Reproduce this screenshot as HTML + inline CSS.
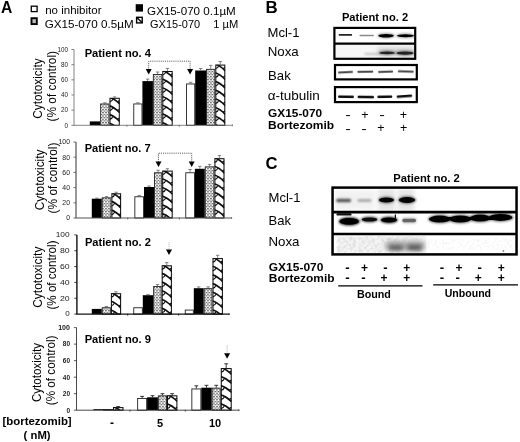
<!DOCTYPE html>
<html lang="en"><head><meta charset="utf-8"><title>Figure</title>
<style>html,body{margin:0;padding:0;background:#fff}svg{display:block}</style></head>
<body>
<svg width="520" height="442" viewBox="0 0 520 442" font-family='"Liberation Sans", Arial, sans-serif'>
<defs>
<pattern id="dots" width="3" height="3.3" patternUnits="userSpaceOnUse"><rect width="3" height="3.3" fill="#fff"/><rect x="0" y="0.2" width="1.9" height="0.85" fill="#333"/><rect x="1.5" y="1.85" width="1.9" height="0.85" fill="#333"/><rect x="-1.5" y="1.85" width="1.9" height="0.85" fill="#333"/></pattern>
<pattern id="wave" width="10" height="8.4" patternUnits="userSpaceOnUse"><rect width="10" height="8.4" fill="#fff"/><path d="M-1,-0.8 L9.5,5 " stroke="#111" stroke-width="2.4" fill="none"/><path d="M-1,7.6 L9.5,13.4" stroke="#111" stroke-width="2.4" fill="none"/><path d="M9.5,4.6 Q4,6 1.5,9.5" stroke="#111" stroke-width="1.2" fill="none"/><path d="M9.5,-3.8 Q4,-2.4 1.5,1.1" stroke="#111" stroke-width="1.2" fill="none"/></pattern>
<filter id="b0" x="-20%" y="-100%" width="140%" height="300%"><feGaussianBlur stdDeviation="0.45"/></filter>
<filter id="b1" x="-20%" y="-100%" width="140%" height="300%"><feGaussianBlur stdDeviation="0.7"/></filter>
<filter id="b2" x="-20%" y="-100%" width="140%" height="300%"><feGaussianBlur stdDeviation="1.2"/></filter>
<filter id="b3" x="-20%" y="-100%" width="140%" height="300%"><feGaussianBlur stdDeviation="2"/></filter>
<filter id="noise" x="0" y="0" width="100%" height="100%"><feTurbulence type="fractalNoise" baseFrequency="0.32" numOctaves="2" seed="4" result="n"/><feColorMatrix in="n" type="matrix" values="0 0 0 0 0.45  0 0 0 0 0.45  0 0 0 0 0.45  2.2 0 0 0 -0.85"/><feComposite operator="in" in2="SourceGraphic"/></filter>
<filter id="noise2" x="0" y="0" width="100%" height="100%"><feTurbulence type="fractalNoise" baseFrequency="0.4" numOctaves="2" seed="9" result="n"/><feColorMatrix in="n" type="matrix" values="0 0 0 0 0.6  0 0 0 0 0.6  0 0 0 0 0.6  2.2 0 0 0 -0.95"/><feComposite operator="in" in2="SourceGraphic"/></filter>
<filter id="soft"><feGaussianBlur stdDeviation="0.35"/></filter>
</defs>
<rect width="520" height="442" fill="#fff"/>
<g filter="url(#soft)">
<text x="1.00" y="12.50" font-size="16.50" font-weight="bold" textLength="11.30" lengthAdjust="spacingAndGlyphs">A</text>
<rect x="31.3" y="6.2" width="5.8" height="5.4" fill="#fff" stroke="#000" stroke-width="1.3"/>
<text x="45.20" y="13.50" font-size="11.50" textLength="56.30" lengthAdjust="spacingAndGlyphs">no inhibitor</text>
<rect x="31.5" y="18.2" width="5.3" height="5.9" fill="#bbb" stroke="#000" stroke-width="1.9"/>
<text x="44.70" y="27.50" font-size="11.50" textLength="89.00" lengthAdjust="spacingAndGlyphs">GX15-070 0.5µM</text>
<rect x="135.7" y="4.2" width="7.3" height="7.4" fill="#000"/>
<text x="147.10" y="14.60" font-size="11.50" textLength="88.70" lengthAdjust="spacingAndGlyphs">GX15-070 0.1µM</text>
<rect x="136.6" y="17.3" width="5.6" height="5.6" fill="#fff" stroke="#000" stroke-width="1.4"/><path d="M137,17.8 L142,22.6" stroke="#000" stroke-width="1.4"/>
<text x="150.10" y="27.60" font-size="11.50" textLength="50.00" lengthAdjust="spacingAndGlyphs">GX15-070</text>
<text x="213.20" y="27.60" font-size="11.50" textLength="25.00" lengthAdjust="spacingAndGlyphs">1 µM</text>
<rect x="89.80" y="121.40" width="10.40" height="3.90" fill="#000"/>
<rect x="100.65" y="103.95" width="8.40" height="21.35" fill="url(#dots)" stroke="#222" stroke-width="0.9"/>
<path d="M104.85,103.50 V102.80 M103.15,102.80 H106.55" stroke="#555" stroke-width="0.70" fill="none"/>
<clipPath id="c1"><rect x="109.50" y="97.90" width="10.20" height="27.40"/></clipPath>
<rect x="109.50" y="97.90" width="10.20" height="27.40" fill="#fff"/>
<g clip-path="url(#c1)"><path d="M109.50,88.50 C112.56,89.30 116.64,92.30 119.70,95.30 M109.50,97.20 C112.56,98.00 116.64,101.00 119.70,104.00 M109.50,105.90 C112.56,106.70 116.64,109.70 119.70,112.70 M109.50,114.60 C112.56,115.40 116.64,118.40 119.70,121.40 M109.50,123.30 C112.56,124.10 116.64,127.10 119.70,130.10 M109.50,132.00 C112.56,132.80 116.64,135.80 119.70,138.80" stroke="#111" stroke-width="1.7" fill="none"/><path d="M109.50,93.30 Q112.36,92.50 112.97,90.30 M119.70,91.90 L117.46,93.10 M109.50,102.00 Q112.36,101.20 112.97,99.00 M119.70,100.60 L117.46,101.80 M109.50,110.70 Q112.36,109.90 112.97,107.70 M119.70,109.30 L117.46,110.50 M109.50,119.40 Q112.36,118.60 112.97,116.40 M119.70,118.00 L117.46,119.20 M109.50,128.10 Q112.36,127.30 112.97,125.10 M119.70,126.70 L117.46,127.90 M109.50,136.80 Q112.36,136.00 112.97,133.80 M119.70,135.40 L117.46,136.60" stroke="#111" stroke-width="1.1" fill="none"/></g>
<rect x="110.00" y="98.30" width="9.30" height="27.00" fill="none" stroke="#111" stroke-width="1.05"/>
<path d="M114.60,97.90 V96.90 M112.90,96.90 H116.30" stroke="#555" stroke-width="0.70" fill="none"/>
<rect x="133.75" y="103.95" width="8.20" height="21.35" fill="#fff" stroke="#222" stroke-width="0.9"/>
<path d="M137.85,103.50 V102.80 M136.15,102.80 H139.55" stroke="#555" stroke-width="0.70" fill="none"/>
<rect x="142.40" y="81.10" width="10.50" height="44.20" fill="#000"/>
<path d="M147.65,81.10 V79.10 M145.95,79.10 H149.35" stroke="#555" stroke-width="0.70" fill="none"/>
<rect x="153.35" y="74.45" width="8.50" height="50.85" fill="url(#dots)" stroke="#222" stroke-width="0.9"/>
<path d="M157.60,74.00 V72.00 M155.90,72.00 H159.30" stroke="#555" stroke-width="0.70" fill="none"/>
<clipPath id="c2"><rect x="162.30" y="71.10" width="10.30" height="54.20"/></clipPath>
<rect x="162.30" y="71.10" width="10.30" height="54.20" fill="#fff"/>
<g clip-path="url(#c2)"><path d="M162.30,61.70 C165.39,62.50 169.51,65.50 172.60,68.50 M162.30,70.40 C165.39,71.20 169.51,74.20 172.60,77.20 M162.30,79.10 C165.39,79.90 169.51,82.90 172.60,85.90 M162.30,87.80 C165.39,88.60 169.51,91.60 172.60,94.60 M162.30,96.50 C165.39,97.30 169.51,100.30 172.60,103.30 M162.30,105.20 C165.39,106.00 169.51,109.00 172.60,112.00 M162.30,113.90 C165.39,114.70 169.51,117.70 172.60,120.70 M162.30,122.60 C165.39,123.40 169.51,126.40 172.60,129.40 M162.30,131.30 C165.39,132.10 169.51,135.10 172.60,138.10" stroke="#111" stroke-width="1.7" fill="none"/><path d="M162.30,66.50 Q165.18,65.70 165.80,63.50 M172.60,65.10 L170.33,66.30 M162.30,75.20 Q165.18,74.40 165.80,72.20 M172.60,73.80 L170.33,75.00 M162.30,83.90 Q165.18,83.10 165.80,80.90 M172.60,82.50 L170.33,83.70 M162.30,92.60 Q165.18,91.80 165.80,89.60 M172.60,91.20 L170.33,92.40 M162.30,101.30 Q165.18,100.50 165.80,98.30 M172.60,99.90 L170.33,101.10 M162.30,110.00 Q165.18,109.20 165.80,107.00 M172.60,108.60 L170.33,109.80 M162.30,118.70 Q165.18,117.90 165.80,115.70 M172.60,117.30 L170.33,118.50 M162.30,127.40 Q165.18,126.60 165.80,124.40 M172.60,126.00 L170.33,127.20 M162.30,136.10 Q165.18,135.30 165.80,133.10 M172.60,134.70 L170.33,135.90" stroke="#111" stroke-width="1.1" fill="none"/></g>
<rect x="162.80" y="71.50" width="9.40" height="53.80" fill="none" stroke="#111" stroke-width="1.05"/>
<path d="M167.45,71.10 V68.40 M165.75,68.40 H169.15" stroke="#555" stroke-width="0.70" fill="none"/>
<rect x="186.55" y="83.95" width="8.20" height="41.35" fill="#fff" stroke="#222" stroke-width="0.9"/>
<path d="M190.65,83.50 V82.30 M188.95,82.30 H192.35" stroke="#555" stroke-width="0.70" fill="none"/>
<rect x="195.20" y="70.50" width="10.90" height="54.80" fill="#000"/>
<path d="M200.65,70.50 V68.50 M198.95,68.50 H202.35" stroke="#555" stroke-width="0.70" fill="none"/>
<rect x="206.55" y="69.35" width="8.30" height="55.95" fill="url(#dots)" stroke="#222" stroke-width="0.9"/>
<path d="M210.70,68.90 V65.40 M209.00,65.40 H212.40" stroke="#555" stroke-width="0.70" fill="none"/>
<clipPath id="c3"><rect x="215.30" y="64.70" width="9.90" height="60.60"/></clipPath>
<rect x="215.30" y="64.70" width="9.90" height="60.60" fill="#fff"/>
<g clip-path="url(#c3)"><path d="M215.30,55.30 C218.27,56.10 222.23,59.10 225.20,62.10 M215.30,64.00 C218.27,64.80 222.23,67.80 225.20,70.80 M215.30,72.70 C218.27,73.50 222.23,76.50 225.20,79.50 M215.30,81.40 C218.27,82.20 222.23,85.20 225.20,88.20 M215.30,90.10 C218.27,90.90 222.23,93.90 225.20,96.90 M215.30,98.80 C218.27,99.60 222.23,102.60 225.20,105.60 M215.30,107.50 C218.27,108.30 222.23,111.30 225.20,114.30 M215.30,116.20 C218.27,117.00 222.23,120.00 225.20,123.00 M215.30,124.90 C218.27,125.70 222.23,128.70 225.20,131.70 M215.30,133.60 C218.27,134.40 222.23,137.40 225.20,140.40" stroke="#111" stroke-width="1.7" fill="none"/><path d="M215.30,60.10 Q218.07,59.30 218.67,57.10 M225.20,58.70 L223.02,59.90 M215.30,68.80 Q218.07,68.00 218.67,65.80 M225.20,67.40 L223.02,68.60 M215.30,77.50 Q218.07,76.70 218.67,74.50 M225.20,76.10 L223.02,77.30 M215.30,86.20 Q218.07,85.40 218.67,83.20 M225.20,84.80 L223.02,86.00 M215.30,94.90 Q218.07,94.10 218.67,91.90 M225.20,93.50 L223.02,94.70 M215.30,103.60 Q218.07,102.80 218.67,100.60 M225.20,102.20 L223.02,103.40 M215.30,112.30 Q218.07,111.50 218.67,109.30 M225.20,110.90 L223.02,112.10 M215.30,121.00 Q218.07,120.20 218.67,118.00 M225.20,119.60 L223.02,120.80 M215.30,129.70 Q218.07,128.90 218.67,126.70 M225.20,128.30 L223.02,129.50 M215.30,138.40 Q218.07,137.60 218.67,135.40 M225.20,137.00 L223.02,138.20" stroke="#111" stroke-width="1.1" fill="none"/></g>
<rect x="215.80" y="65.10" width="9.00" height="60.20" fill="none" stroke="#111" stroke-width="1.05"/>
<path d="M220.25,64.70 V61.50 M218.55,61.50 H221.95" stroke="#555" stroke-width="0.70" fill="none"/>
<path d="M74.00,49.50 V125.30 H232.40" stroke="#666" stroke-width="0.80" fill="none"/>
<path d="M71.40,125.30 H74.00" stroke="#666" stroke-width="0.8"/>
<text x="68.00" y="127.57" font-size="6.30" text-anchor="end" fill="#222">0</text>
<path d="M71.40,110.14 H74.00" stroke="#666" stroke-width="0.8"/>
<text x="68.00" y="112.41" font-size="6.30" text-anchor="end" fill="#222">20</text>
<path d="M71.40,94.98 H74.00" stroke="#666" stroke-width="0.8"/>
<text x="68.00" y="97.25" font-size="6.30" text-anchor="end" fill="#222">40</text>
<path d="M71.40,79.82 H74.00" stroke="#666" stroke-width="0.8"/>
<text x="68.00" y="82.09" font-size="6.30" text-anchor="end" fill="#222">60</text>
<path d="M71.40,64.66 H74.00" stroke="#666" stroke-width="0.8"/>
<text x="68.00" y="66.93" font-size="6.30" text-anchor="end" fill="#222">80</text>
<path d="M71.40,49.50 H74.00" stroke="#666" stroke-width="0.8"/>
<text x="68.00" y="51.77" font-size="6.30" text-anchor="end" textLength="10.50" lengthAdjust="spacingAndGlyphs" fill="#222">100</text>
<path d="M126.90,124.80 v2" stroke="#666" stroke-width="0.8"/>
<path d="M179.30,124.80 v2" stroke="#666" stroke-width="0.8"/>
<path d="M232.40,124.30 v2" stroke="#666" stroke-width="0.8"/>
<text x="84.70" y="56.60" font-size="10.00" font-weight="bold" textLength="66.30" lengthAdjust="spacingAndGlyphs">Patient no. 4</text>
<g transform="translate(42.30,88.60) rotate(-90)">
<text x="0.00" y="0.00" font-size="12.30" text-anchor="middle" textLength="60.30" lengthAdjust="spacingAndGlyphs">Cytotoxicity</text>
</g>
<g transform="translate(56.00,86.20) rotate(-90)">
<text x="0.00" y="0.00" font-size="12.30" text-anchor="middle" textLength="70.40" lengthAdjust="spacingAndGlyphs">(% of control)</text>
</g>
<rect x="91.80" y="198.70" width="10.00" height="19.30" fill="#000"/>
<path d="M96.80,198.70 V198.10 M95.10,198.10 H98.50" stroke="#555" stroke-width="0.70" fill="none"/>
<rect x="102.25" y="197.85" width="8.70" height="20.15" fill="url(#dots)" stroke="#222" stroke-width="0.9"/>
<path d="M106.60,197.40 V196.60 M104.90,196.60 H108.30" stroke="#555" stroke-width="0.70" fill="none"/>
<clipPath id="c4"><rect x="111.40" y="193.40" width="9.60" height="24.60"/></clipPath>
<rect x="111.40" y="193.40" width="9.60" height="24.60" fill="#fff"/>
<g clip-path="url(#c4)"><path d="M111.40,184.00 C114.28,184.80 118.12,187.80 121.00,190.80 M111.40,192.70 C114.28,193.50 118.12,196.50 121.00,199.50 M111.40,201.40 C114.28,202.20 118.12,205.20 121.00,208.20 M111.40,210.10 C114.28,210.90 118.12,213.90 121.00,216.90 M111.40,218.80 C114.28,219.60 118.12,222.60 121.00,225.60 M111.40,227.50 C114.28,228.30 118.12,231.30 121.00,234.30" stroke="#111" stroke-width="1.7" fill="none"/><path d="M111.40,188.80 Q114.09,188.00 114.66,185.80 M121.00,187.40 L118.89,188.60 M111.40,197.50 Q114.09,196.70 114.66,194.50 M121.00,196.10 L118.89,197.30 M111.40,206.20 Q114.09,205.40 114.66,203.20 M121.00,204.80 L118.89,206.00 M111.40,214.90 Q114.09,214.10 114.66,211.90 M121.00,213.50 L118.89,214.70 M111.40,223.60 Q114.09,222.80 114.66,220.60 M121.00,222.20 L118.89,223.40 M111.40,232.30 Q114.09,231.50 114.66,229.30 M121.00,230.90 L118.89,232.10" stroke="#111" stroke-width="1.1" fill="none"/></g>
<rect x="111.90" y="193.80" width="8.70" height="24.20" fill="none" stroke="#111" stroke-width="1.05"/>
<path d="M116.20,193.40 V192.20 M114.50,192.20 H117.90" stroke="#555" stroke-width="0.70" fill="none"/>
<rect x="134.85" y="196.75" width="8.70" height="21.25" fill="#fff" stroke="#222" stroke-width="0.9"/>
<path d="M139.20,196.30 V195.50 M137.50,195.50 H140.90" stroke="#555" stroke-width="0.70" fill="none"/>
<rect x="144.00" y="187.00" width="10.00" height="31.00" fill="#000"/>
<path d="M149.00,187.00 V186.00 M147.30,186.00 H150.70" stroke="#555" stroke-width="0.70" fill="none"/>
<rect x="154.45" y="172.75" width="7.30" height="45.25" fill="url(#dots)" stroke="#222" stroke-width="0.9"/>
<path d="M158.10,172.30 V170.30 M156.40,170.30 H159.80" stroke="#555" stroke-width="0.70" fill="none"/>
<clipPath id="c5"><rect x="162.20" y="170.75" width="10.40" height="47.25"/></clipPath>
<rect x="162.20" y="170.75" width="10.40" height="47.25" fill="#fff"/>
<g clip-path="url(#c5)"><path d="M162.20,161.35 C165.32,162.15 169.48,165.15 172.60,168.15 M162.20,170.05 C165.32,170.85 169.48,173.85 172.60,176.85 M162.20,178.75 C165.32,179.55 169.48,182.55 172.60,185.55 M162.20,187.45 C165.32,188.25 169.48,191.25 172.60,194.25 M162.20,196.15 C165.32,196.95 169.48,199.95 172.60,202.95 M162.20,204.85 C165.32,205.65 169.48,208.65 172.60,211.65 M162.20,213.55 C165.32,214.35 169.48,217.35 172.60,220.35 M162.20,222.25 C165.32,223.05 169.48,226.05 172.60,229.05" stroke="#111" stroke-width="1.7" fill="none"/><path d="M162.20,166.15 Q165.11,165.35 165.74,163.15 M172.60,164.75 L170.31,165.95 M162.20,174.85 Q165.11,174.05 165.74,171.85 M172.60,173.45 L170.31,174.65 M162.20,183.55 Q165.11,182.75 165.74,180.55 M172.60,182.15 L170.31,183.35 M162.20,192.25 Q165.11,191.45 165.74,189.25 M172.60,190.85 L170.31,192.05 M162.20,200.95 Q165.11,200.15 165.74,197.95 M172.60,199.55 L170.31,200.75 M162.20,209.65 Q165.11,208.85 165.74,206.65 M172.60,208.25 L170.31,209.45 M162.20,218.35 Q165.11,217.55 165.74,215.35 M172.60,216.95 L170.31,218.15 M162.20,227.05 Q165.11,226.25 165.74,224.05 M172.60,225.65 L170.31,226.85" stroke="#111" stroke-width="1.1" fill="none"/></g>
<rect x="162.70" y="171.15" width="9.50" height="46.85" fill="none" stroke="#111" stroke-width="1.05"/>
<path d="M167.40,170.75 V168.75 M165.70,168.75 H169.10" stroke="#555" stroke-width="0.70" fill="none"/>
<rect x="185.75" y="172.75" width="8.70" height="45.25" fill="#fff" stroke="#222" stroke-width="0.9"/>
<path d="M190.10,172.30 V169.50 M188.40,169.50 H191.80" stroke="#555" stroke-width="0.70" fill="none"/>
<rect x="194.90" y="168.80" width="9.90" height="49.20" fill="#000"/>
<path d="M199.85,168.80 V166.30 M198.15,166.30 H201.55" stroke="#555" stroke-width="0.70" fill="none"/>
<rect x="205.25" y="166.85" width="8.70" height="51.15" fill="url(#dots)" stroke="#222" stroke-width="0.9"/>
<path d="M209.60,166.40 V164.40 M207.90,164.40 H211.30" stroke="#555" stroke-width="0.70" fill="none"/>
<clipPath id="c6"><rect x="214.40" y="158.30" width="10.00" height="59.70"/></clipPath>
<rect x="214.40" y="158.30" width="10.00" height="59.70" fill="#fff"/>
<g clip-path="url(#c6)"><path d="M214.40,148.90 C217.40,149.70 221.40,152.70 224.40,155.70 M214.40,157.60 C217.40,158.40 221.40,161.40 224.40,164.40 M214.40,166.30 C217.40,167.10 221.40,170.10 224.40,173.10 M214.40,175.00 C217.40,175.80 221.40,178.80 224.40,181.80 M214.40,183.70 C217.40,184.50 221.40,187.50 224.40,190.50 M214.40,192.40 C217.40,193.20 221.40,196.20 224.40,199.20 M214.40,201.10 C217.40,201.90 221.40,204.90 224.40,207.90 M214.40,209.80 C217.40,210.60 221.40,213.60 224.40,216.60 M214.40,218.50 C217.40,219.30 221.40,222.30 224.40,225.30 M214.40,227.20 C217.40,228.00 221.40,231.00 224.40,234.00" stroke="#111" stroke-width="1.7" fill="none"/><path d="M214.40,153.70 Q217.20,152.90 217.80,150.70 M224.40,152.30 L222.20,153.50 M214.40,162.40 Q217.20,161.60 217.80,159.40 M224.40,161.00 L222.20,162.20 M214.40,171.10 Q217.20,170.30 217.80,168.10 M224.40,169.70 L222.20,170.90 M214.40,179.80 Q217.20,179.00 217.80,176.80 M224.40,178.40 L222.20,179.60 M214.40,188.50 Q217.20,187.70 217.80,185.50 M224.40,187.10 L222.20,188.30 M214.40,197.20 Q217.20,196.40 217.80,194.20 M224.40,195.80 L222.20,197.00 M214.40,205.90 Q217.20,205.10 217.80,202.90 M224.40,204.50 L222.20,205.70 M214.40,214.60 Q217.20,213.80 217.80,211.60 M224.40,213.20 L222.20,214.40 M214.40,223.30 Q217.20,222.50 217.80,220.30 M224.40,221.90 L222.20,223.10 M214.40,232.00 Q217.20,231.20 217.80,229.00 M224.40,230.60 L222.20,231.80" stroke="#111" stroke-width="1.1" fill="none"/></g>
<rect x="214.90" y="158.70" width="9.10" height="59.30" fill="none" stroke="#111" stroke-width="1.05"/>
<path d="M219.40,158.30 V155.60 M217.70,155.60 H221.10" stroke="#555" stroke-width="0.70" fill="none"/>
<path d="M76.00,142.00 V218.00 H231.60" stroke="#555" stroke-width="1.20" fill="none"/>
<path d="M73.40,218.00 H76.00" stroke="#555" stroke-width="0.8"/>
<text x="70.00" y="220.48" font-size="6.90" text-anchor="end" fill="#222">0</text>
<path d="M73.40,202.80 H76.00" stroke="#555" stroke-width="0.8"/>
<text x="70.00" y="205.28" font-size="6.90" text-anchor="end" fill="#222">20</text>
<path d="M73.40,187.60 H76.00" stroke="#555" stroke-width="0.8"/>
<text x="70.00" y="190.08" font-size="6.90" text-anchor="end" fill="#222">40</text>
<path d="M73.40,172.40 H76.00" stroke="#555" stroke-width="0.8"/>
<text x="70.00" y="174.88" font-size="6.90" text-anchor="end" fill="#222">60</text>
<path d="M73.40,157.20 H76.00" stroke="#555" stroke-width="0.8"/>
<text x="70.00" y="159.68" font-size="6.90" text-anchor="end" fill="#222">80</text>
<path d="M73.40,142.00 H76.00" stroke="#555" stroke-width="0.8"/>
<text x="70.00" y="144.48" font-size="6.90" text-anchor="end" textLength="11.50" lengthAdjust="spacingAndGlyphs" fill="#222">100</text>
<path d="M127.70,217.50 v2" stroke="#555" stroke-width="0.8"/>
<path d="M179.30,217.50 v2" stroke="#555" stroke-width="0.8"/>
<path d="M231.60,217.00 v2" stroke="#555" stroke-width="0.8"/>
<text x="84.70" y="152.00" font-size="10.00" font-weight="bold" textLength="66.00" lengthAdjust="spacingAndGlyphs">Patient no. 7</text>
<g transform="translate(43.50,179.90) rotate(-90)">
<text x="0.00" y="0.00" font-size="12.30" text-anchor="middle" textLength="60.70" lengthAdjust="spacingAndGlyphs">Cytotoxicity</text>
</g>
<g transform="translate(57.10,178.00) rotate(-90)">
<text x="0.00" y="0.00" font-size="12.30" text-anchor="middle" textLength="70.80" lengthAdjust="spacingAndGlyphs">(% of control)</text>
</g>
<rect x="91.80" y="308.90" width="10.00" height="5.20" fill="#000"/>
<rect x="102.25" y="307.75" width="8.20" height="6.35" fill="url(#dots)" stroke="#222" stroke-width="0.9"/>
<path d="M106.35,307.30 V306.50 M104.65,306.50 H108.05" stroke="#555" stroke-width="0.70" fill="none"/>
<clipPath id="c7"><rect x="110.90" y="293.30" width="10.10" height="20.80"/></clipPath>
<rect x="110.90" y="293.30" width="10.10" height="20.80" fill="#fff"/>
<g clip-path="url(#c7)"><path d="M110.90,283.90 C113.93,284.70 117.97,287.70 121.00,290.70 M110.90,292.60 C113.93,293.40 117.97,296.40 121.00,299.40 M110.90,301.30 C113.93,302.10 117.97,305.10 121.00,308.10 M110.90,310.00 C113.93,310.80 117.97,313.80 121.00,316.80 M110.90,318.70 C113.93,319.50 117.97,322.50 121.00,325.50" stroke="#111" stroke-width="1.7" fill="none"/><path d="M110.90,288.70 Q113.73,287.90 114.33,285.70 M121.00,287.30 L118.78,288.50 M110.90,297.40 Q113.73,296.60 114.33,294.40 M121.00,296.00 L118.78,297.20 M110.90,306.10 Q113.73,305.30 114.33,303.10 M121.00,304.70 L118.78,305.90 M110.90,314.80 Q113.73,314.00 114.33,311.80 M121.00,313.40 L118.78,314.60 M110.90,323.50 Q113.73,322.70 114.33,320.50 M121.00,322.10 L118.78,323.30" stroke="#111" stroke-width="1.1" fill="none"/></g>
<rect x="111.40" y="293.70" width="9.20" height="20.40" fill="none" stroke="#111" stroke-width="1.05"/>
<path d="M115.95,293.30 V291.80 M114.25,291.80 H117.65" stroke="#555" stroke-width="0.70" fill="none"/>
<rect x="133.75" y="307.75" width="8.60" height="6.35" fill="#fff" stroke="#222" stroke-width="0.9"/>
<rect x="142.80" y="295.20" width="10.40" height="18.90" fill="#000"/>
<path d="M148.00,295.20 V294.60 M146.30,294.60 H149.70" stroke="#555" stroke-width="0.70" fill="none"/>
<rect x="153.65" y="286.55" width="7.60" height="27.55" fill="url(#dots)" stroke="#222" stroke-width="0.9"/>
<path d="M157.45,286.10 V284.50 M155.75,284.50 H159.15" stroke="#555" stroke-width="0.70" fill="none"/>
<clipPath id="c8"><rect x="161.70" y="265.40" width="10.10" height="48.70"/></clipPath>
<rect x="161.70" y="265.40" width="10.10" height="48.70" fill="#fff"/>
<g clip-path="url(#c8)"><path d="M161.70,256.00 C164.73,256.80 168.77,259.80 171.80,262.80 M161.70,264.70 C164.73,265.50 168.77,268.50 171.80,271.50 M161.70,273.40 C164.73,274.20 168.77,277.20 171.80,280.20 M161.70,282.10 C164.73,282.90 168.77,285.90 171.80,288.90 M161.70,290.80 C164.73,291.60 168.77,294.60 171.80,297.60 M161.70,299.50 C164.73,300.30 168.77,303.30 171.80,306.30 M161.70,308.20 C164.73,309.00 168.77,312.00 171.80,315.00 M161.70,316.90 C164.73,317.70 168.77,320.70 171.80,323.70" stroke="#111" stroke-width="1.7" fill="none"/><path d="M161.70,260.80 Q164.53,260.00 165.13,257.80 M171.80,259.40 L169.58,260.60 M161.70,269.50 Q164.53,268.70 165.13,266.50 M171.80,268.10 L169.58,269.30 M161.70,278.20 Q164.53,277.40 165.13,275.20 M171.80,276.80 L169.58,278.00 M161.70,286.90 Q164.53,286.10 165.13,283.90 M171.80,285.50 L169.58,286.70 M161.70,295.60 Q164.53,294.80 165.13,292.60 M171.80,294.20 L169.58,295.40 M161.70,304.30 Q164.53,303.50 165.13,301.30 M171.80,302.90 L169.58,304.10 M161.70,313.00 Q164.53,312.20 165.13,310.00 M171.80,311.60 L169.58,312.80 M161.70,321.70 Q164.53,320.90 165.13,318.70 M171.80,320.30 L169.58,321.50" stroke="#111" stroke-width="1.1" fill="none"/></g>
<rect x="162.20" y="265.80" width="9.20" height="48.30" fill="none" stroke="#111" stroke-width="1.05"/>
<path d="M166.75,265.40 V262.60 M165.05,262.60 H168.45" stroke="#555" stroke-width="0.70" fill="none"/>
<rect x="185.25" y="310.05" width="8.10" height="4.05" fill="#fff" stroke="#222" stroke-width="0.9"/>
<rect x="193.80" y="288.20" width="9.90" height="25.90" fill="#000"/>
<path d="M198.75,288.20 V286.90 M197.05,286.90 H200.45" stroke="#555" stroke-width="0.70" fill="none"/>
<rect x="204.15" y="288.65" width="7.90" height="25.45" fill="url(#dots)" stroke="#222" stroke-width="0.9"/>
<path d="M208.10,288.20 V286.90 M206.40,286.90 H209.80" stroke="#555" stroke-width="0.70" fill="none"/>
<clipPath id="c9"><rect x="212.50" y="258.20" width="10.30" height="55.90"/></clipPath>
<rect x="212.50" y="258.20" width="10.30" height="55.90" fill="#fff"/>
<g clip-path="url(#c9)"><path d="M212.50,248.80 C215.59,249.60 219.71,252.60 222.80,255.60 M212.50,257.50 C215.59,258.30 219.71,261.30 222.80,264.30 M212.50,266.20 C215.59,267.00 219.71,270.00 222.80,273.00 M212.50,274.90 C215.59,275.70 219.71,278.70 222.80,281.70 M212.50,283.60 C215.59,284.40 219.71,287.40 222.80,290.40 M212.50,292.30 C215.59,293.10 219.71,296.10 222.80,299.10 M212.50,301.00 C215.59,301.80 219.71,304.80 222.80,307.80 M212.50,309.70 C215.59,310.50 219.71,313.50 222.80,316.50 M212.50,318.40 C215.59,319.20 219.71,322.20 222.80,325.20" stroke="#111" stroke-width="1.7" fill="none"/><path d="M212.50,253.60 Q215.38,252.80 216.00,250.60 M222.80,252.20 L220.53,253.40 M212.50,262.30 Q215.38,261.50 216.00,259.30 M222.80,260.90 L220.53,262.10 M212.50,271.00 Q215.38,270.20 216.00,268.00 M222.80,269.60 L220.53,270.80 M212.50,279.70 Q215.38,278.90 216.00,276.70 M222.80,278.30 L220.53,279.50 M212.50,288.40 Q215.38,287.60 216.00,285.40 M222.80,287.00 L220.53,288.20 M212.50,297.10 Q215.38,296.30 216.00,294.10 M222.80,295.70 L220.53,296.90 M212.50,305.80 Q215.38,305.00 216.00,302.80 M222.80,304.40 L220.53,305.60 M212.50,314.50 Q215.38,313.70 216.00,311.50 M222.80,313.10 L220.53,314.30 M212.50,323.20 Q215.38,322.40 216.00,320.20 M222.80,321.80 L220.53,323.00" stroke="#111" stroke-width="1.1" fill="none"/></g>
<rect x="213.00" y="258.60" width="9.40" height="55.50" fill="none" stroke="#111" stroke-width="1.05"/>
<path d="M217.65,258.20 V255.30 M215.95,255.30 H219.35" stroke="#555" stroke-width="0.70" fill="none"/>
<path d="M76.90,234.90 V314.10 H229.20" stroke="#111" stroke-width="1.40" fill="none"/>
<path d="M74.30,314.10 H76.90" stroke="#111" stroke-width="0.8"/>
<text x="69.70" y="316.37" font-size="6.30" text-anchor="end" textLength="4.50" lengthAdjust="spacingAndGlyphs" fill="#222">0</text>
<path d="M74.30,298.26 H76.90" stroke="#111" stroke-width="0.8"/>
<text x="69.70" y="300.53" font-size="6.30" text-anchor="end" textLength="9.70" lengthAdjust="spacingAndGlyphs" fill="#222">20</text>
<path d="M74.30,282.42 H76.90" stroke="#111" stroke-width="0.8"/>
<text x="69.70" y="284.69" font-size="6.30" text-anchor="end" textLength="9.70" lengthAdjust="spacingAndGlyphs" fill="#222">40</text>
<path d="M74.30,266.58 H76.90" stroke="#111" stroke-width="0.8"/>
<text x="69.70" y="268.85" font-size="6.30" text-anchor="end" textLength="9.70" lengthAdjust="spacingAndGlyphs" fill="#222">60</text>
<path d="M74.30,250.74 H76.90" stroke="#111" stroke-width="0.8"/>
<text x="69.70" y="253.01" font-size="6.30" text-anchor="end" textLength="9.70" lengthAdjust="spacingAndGlyphs" fill="#222">80</text>
<path d="M74.30,234.90 H76.90" stroke="#111" stroke-width="0.8"/>
<text x="69.70" y="237.17" font-size="6.30" text-anchor="end" textLength="14.00" lengthAdjust="spacingAndGlyphs" fill="#222">100</text>
<path d="M127.70,313.60 v2" stroke="#111" stroke-width="0.8"/>
<path d="M178.60,313.60 v2" stroke="#111" stroke-width="0.8"/>
<path d="M229.20,313.10 v2" stroke="#111" stroke-width="0.8"/>
<text x="84.90" y="245.90" font-size="10.00" font-weight="bold" textLength="66.00" lengthAdjust="spacingAndGlyphs">Patient no. 2</text>
<g transform="translate(42.30,277.20) rotate(-90)">
<text x="0.00" y="0.00" font-size="12.30" text-anchor="middle" textLength="61.30" lengthAdjust="spacingAndGlyphs">Cytotoxicity</text>
</g>
<g transform="translate(56.10,275.00) rotate(-90)">
<text x="0.00" y="0.00" font-size="12.30" text-anchor="middle" textLength="69.00" lengthAdjust="spacingAndGlyphs">(% of control)</text>
</g>
<rect x="93.40" y="409.20" width="9.60" height="1.00" fill="#000"/>
<rect x="103.45" y="409.45" width="9.10" height="0.75" fill="url(#dots)" stroke="#222" stroke-width="0.9"/>
<clipPath id="c10"><rect x="113.00" y="407.20" width="10.40" height="3.00"/></clipPath>
<rect x="113.00" y="407.20" width="10.40" height="3.00" fill="#fff"/>
<g clip-path="url(#c10)"><path d="M113.00,397.40 C116.12,398.20 120.28,401.20 123.40,404.20 M113.00,406.50 C116.12,407.30 120.28,410.30 123.40,413.30 M113.00,415.60 C116.12,416.40 120.28,419.40 123.40,422.40" stroke="#111" stroke-width="1.7" fill="none"/><path d="M113.00,402.20 Q115.91,401.40 116.54,399.20 M123.40,400.80 L121.11,402.00 M113.00,411.30 Q115.91,410.50 116.54,408.30 M123.40,409.90 L121.11,411.10 M113.00,420.40 Q115.91,419.60 116.54,417.40 M123.40,419.00 L121.11,420.20" stroke="#111" stroke-width="1.1" fill="none"/></g>
<rect x="113.50" y="407.60" width="9.50" height="2.60" fill="none" stroke="#111" stroke-width="1.05"/>
<path d="M118.20,407.20 V406.60 M116.30,406.60 H120.10" stroke="#222" stroke-width="0.90" fill="none"/>
<rect x="137.65" y="398.45" width="9.00" height="11.75" fill="#fff" stroke="#222" stroke-width="0.9"/>
<path d="M142.15,398.00 V396.40 M140.25,396.40 H144.05" stroke="#222" stroke-width="0.90" fill="none"/>
<rect x="147.10" y="397.30" width="10.80" height="12.90" fill="#000"/>
<path d="M152.50,397.30 V395.70 M150.60,395.70 H154.40" stroke="#222" stroke-width="0.90" fill="none"/>
<rect x="158.35" y="395.85" width="8.20" height="14.35" fill="url(#dots)" stroke="#222" stroke-width="0.9"/>
<path d="M162.45,395.40 V393.70 M160.55,393.70 H164.35" stroke="#222" stroke-width="0.90" fill="none"/>
<clipPath id="c11"><rect x="167.00" y="395.40" width="10.30" height="14.80"/></clipPath>
<rect x="167.00" y="395.40" width="10.30" height="14.80" fill="#fff"/>
<g clip-path="url(#c11)"><path d="M167.00,385.60 C170.09,386.40 174.21,389.40 177.30,392.40 M167.00,394.70 C170.09,395.50 174.21,398.50 177.30,401.50 M167.00,403.80 C170.09,404.60 174.21,407.60 177.30,410.60 M167.00,412.90 C170.09,413.70 174.21,416.70 177.30,419.70" stroke="#111" stroke-width="1.7" fill="none"/><path d="M167.00,390.40 Q169.88,389.60 170.50,387.40 M177.30,389.00 L175.03,390.20 M167.00,399.50 Q169.88,398.70 170.50,396.50 M177.30,398.10 L175.03,399.30 M167.00,408.60 Q169.88,407.80 170.50,405.60 M177.30,407.20 L175.03,408.40 M167.00,417.70 Q169.88,416.90 170.50,414.70 M177.30,416.30 L175.03,417.50" stroke="#111" stroke-width="1.1" fill="none"/></g>
<rect x="167.50" y="395.80" width="9.40" height="14.40" fill="none" stroke="#111" stroke-width="1.05"/>
<path d="M172.15,395.40 V393.70 M170.25,393.70 H174.05" stroke="#222" stroke-width="0.90" fill="none"/>
<rect x="191.85" y="388.95" width="9.00" height="21.25" fill="#fff" stroke="#222" stroke-width="0.9"/>
<path d="M196.35,388.50 V385.80 M194.45,385.80 H198.25" stroke="#222" stroke-width="0.90" fill="none"/>
<rect x="201.30" y="387.70" width="10.40" height="22.50" fill="#000"/>
<path d="M206.50,387.70 V385.30 M204.60,385.30 H208.40" stroke="#222" stroke-width="0.90" fill="none"/>
<rect x="212.15" y="388.15" width="8.20" height="22.05" fill="url(#dots)" stroke="#222" stroke-width="0.9"/>
<path d="M216.25,387.70 V385.30 M214.35,385.30 H218.15" stroke="#222" stroke-width="0.90" fill="none"/>
<clipPath id="c12"><rect x="220.80" y="368.20" width="10.80" height="42.00"/></clipPath>
<rect x="220.80" y="368.20" width="10.80" height="42.00" fill="#fff"/>
<g clip-path="url(#c12)"><path d="M220.80,358.40 C224.04,359.20 228.36,362.20 231.60,365.20 M220.80,367.50 C224.04,368.30 228.36,371.30 231.60,374.30 M220.80,376.60 C224.04,377.40 228.36,380.40 231.60,383.40 M220.80,385.70 C224.04,386.50 228.36,389.50 231.60,392.50 M220.80,394.80 C224.04,395.60 228.36,398.60 231.60,401.60 M220.80,403.90 C224.04,404.70 228.36,407.70 231.60,410.70 M220.80,413.00 C224.04,413.80 228.36,416.80 231.60,419.80" stroke="#111" stroke-width="1.7" fill="none"/><path d="M220.80,363.20 Q223.82,362.40 224.47,360.20 M231.60,361.80 L229.22,363.00 M220.80,372.30 Q223.82,371.50 224.47,369.30 M231.60,370.90 L229.22,372.10 M220.80,381.40 Q223.82,380.60 224.47,378.40 M231.60,380.00 L229.22,381.20 M220.80,390.50 Q223.82,389.70 224.47,387.50 M231.60,389.10 L229.22,390.30 M220.80,399.60 Q223.82,398.80 224.47,396.60 M231.60,398.20 L229.22,399.40 M220.80,408.70 Q223.82,407.90 224.47,405.70 M231.60,407.30 L229.22,408.50 M220.80,417.80 Q223.82,417.00 224.47,414.80 M231.60,416.40 L229.22,417.60" stroke="#111" stroke-width="1.1" fill="none"/></g>
<rect x="221.30" y="368.60" width="9.90" height="41.60" fill="none" stroke="#111" stroke-width="1.05"/>
<path d="M226.20,368.20 V363.80 M224.30,363.80 H228.10" stroke="#222" stroke-width="0.90" fill="none"/>
<path d="M76.50,327.60 V410.20 H239.00" stroke="#333" stroke-width="0.90" fill="none"/>
<path d="M73.90,410.20 H76.50" stroke="#333" stroke-width="0.8"/>
<text x="70.00" y="412.54" font-size="6.50" font-weight="bold" text-anchor="end" fill="#222">0</text>
<path d="M73.90,393.68 H76.50" stroke="#333" stroke-width="0.8"/>
<text x="70.00" y="396.02" font-size="6.50" font-weight="bold" text-anchor="end" fill="#222">20</text>
<path d="M73.90,377.16 H76.50" stroke="#333" stroke-width="0.8"/>
<text x="70.00" y="379.50" font-size="6.50" font-weight="bold" text-anchor="end" fill="#222">40</text>
<path d="M73.90,360.64 H76.50" stroke="#333" stroke-width="0.8"/>
<text x="70.00" y="362.98" font-size="6.50" font-weight="bold" text-anchor="end" fill="#222">60</text>
<path d="M73.90,344.12 H76.50" stroke="#333" stroke-width="0.8"/>
<text x="70.00" y="346.46" font-size="6.50" font-weight="bold" text-anchor="end" fill="#222">80</text>
<path d="M73.90,327.60 H76.50" stroke="#333" stroke-width="0.8"/>
<text x="70.00" y="329.94" font-size="6.50" font-weight="bold" text-anchor="end" textLength="11.80" lengthAdjust="spacingAndGlyphs" fill="#222">100</text>
<path d="M130.00,409.70 v2" stroke="#333" stroke-width="0.8"/>
<path d="M185.30,409.70 v2" stroke="#333" stroke-width="0.8"/>
<path d="M239.00,409.20 v2" stroke="#333" stroke-width="0.8"/>
<text x="84.70" y="342.70" font-size="10.50" font-weight="bold" textLength="66.30" lengthAdjust="spacingAndGlyphs">Patient no. 9</text>
<g transform="translate(41.00,372.50) rotate(-90)">
<text x="0.00" y="0.00" font-size="12.30" text-anchor="middle" textLength="59.20" lengthAdjust="spacingAndGlyphs">Cytotoxicity</text>
</g>
<g transform="translate(54.70,370.40) rotate(-90)">
<text x="0.00" y="0.00" font-size="12.30" text-anchor="middle" textLength="69.70" lengthAdjust="spacingAndGlyphs">(% of control)</text>
</g>
<path d="M148.7,69.5 V61.2 H190.1 V69.5" stroke="#444" stroke-width="0.95" stroke-dasharray="0.9,1.0" fill="none"/>
<path d="M145.70,69.10 L151.70,69.10 L148.70,74.60 Z" fill="#000"/>
<path d="M187.10,69.10 L193.10,69.10 L190.10,74.60 Z" fill="#000"/>
<path d="M158.5,162 V153.2 H191.7 V162" stroke="#444" stroke-width="0.95" stroke-dasharray="0.9,1.0" fill="none"/>
<path d="M155.50,161.50 L161.50,161.50 L158.50,167.00 Z" fill="#000"/>
<path d="M188.70,161.50 L194.70,161.50 L191.70,167.00 Z" fill="#000"/>
<path d="M169,242.5 V250" stroke="#999" stroke-width="0.8" stroke-dasharray="0.8,1" fill="none"/>
<path d="M166.00,249.40 L172.00,249.40 L169.00,254.90 Z" fill="#000"/>
<path d="M227.1,345.4 V354" stroke="#999" stroke-width="0.8" stroke-dasharray="1,1" fill="none"/>
<path d="M224.10,353.30 L230.10,353.30 L227.10,358.80 Z" fill="#000"/>
<text x="2.40" y="424.50" font-size="11.00" font-weight="bold" textLength="69.30" lengthAdjust="spacingAndGlyphs">[bortezomib]</text>
<text x="23.60" y="439.40" font-size="11.00" font-weight="bold" textLength="27.00" lengthAdjust="spacingAndGlyphs">( nM)</text>
<text x="112.00" y="427.00" font-size="12.00" font-weight="bold" text-anchor="middle">-</text>
<text x="160.00" y="426.70" font-size="11.00" font-weight="bold" text-anchor="middle">5</text>
<text x="215.00" y="426.70" font-size="11.00" font-weight="bold" text-anchor="middle">10</text>
</g>
<g filter="url(#soft)">
<text x="265.60" y="13.00" font-size="16.00" font-weight="bold" textLength="12.20" lengthAdjust="spacingAndGlyphs">B</text>
<text x="341.90" y="20.80" font-size="10.50" font-weight="bold" textLength="66.20" lengthAdjust="spacingAndGlyphs">Patient no. 2</text>
<text x="267.50" y="37.40" font-size="12.80" textLength="32.00" lengthAdjust="spacingAndGlyphs">Mcl-1</text>
<text x="267.70" y="56.00" font-size="12.80" textLength="31.00" lengthAdjust="spacingAndGlyphs">Noxa</text>
<text x="268.10" y="79.50" font-size="13.00" textLength="22.60" lengthAdjust="spacingAndGlyphs">Bak</text>
<text x="267.80" y="99.50" font-size="13.00" textLength="52.00" lengthAdjust="spacingAndGlyphs">α-tubulin</text>
<text x="268.10" y="116.80" font-size="10.70" font-weight="bold" textLength="54.00" lengthAdjust="spacingAndGlyphs">GX15-070</text>
<text x="268.10" y="128.70" font-size="10.70" font-weight="bold" textLength="66.00" lengthAdjust="spacingAndGlyphs">Bortezomib</text>
<text x="345.20" y="119.00" font-size="12.50" textLength="5.60" lengthAdjust="spacingAndGlyphs">-</text>
<text x="345.20" y="132.50" font-size="12.50" textLength="5.60" lengthAdjust="spacingAndGlyphs">-</text>
<text x="364.80" y="118.50" font-size="12.50" text-anchor="middle">+</text>
<text x="361.20" y="132.50" font-size="12.50" textLength="5.60" lengthAdjust="spacingAndGlyphs">-</text>
<text x="379.20" y="119.00" font-size="12.50" textLength="5.60" lengthAdjust="spacingAndGlyphs">-</text>
<text x="380.90" y="132.10" font-size="12.50" text-anchor="middle">+</text>
<text x="403.40" y="118.50" font-size="12.50" text-anchor="middle">+</text>
<text x="403.70" y="132.10" font-size="12.50" text-anchor="middle">+</text>
</g>
<rect x="335" y="44" width="80" height="15" fill="#f6f6f6"/>
<rect x="338.65" y="34.05" width="13.50" height="1.70" rx="0.85" fill="#222" filter="url(#b0)" opacity="1.00"/>
<rect x="359.45" y="34.65" width="14.50" height="1.50" rx="0.75" fill="#888" filter="url(#b0)" opacity="1.00"/>
<ellipse cx="386.10" cy="35.70" rx="8.75" ry="2.70" fill="#000" filter="url(#b2)" opacity="0.35"/>
<ellipse cx="386.10" cy="35.70" rx="7.75" ry="1.70" fill="#000" filter="url(#b0)"/>
<ellipse cx="405.50" cy="35.70" rx="9.50" ry="2.45" fill="#000" filter="url(#b2)" opacity="0.35"/>
<ellipse cx="405.50" cy="35.70" rx="8.50" ry="1.45" fill="#000" filter="url(#b0)"/>
<rect x="377.00" y="47.50" width="38.00" height="8.00" rx="4.00" fill="#bbb" filter="url(#b3)" opacity="0.60"/>
<rect x="364.50" y="52.90" width="15.00" height="1.80" rx="0.90" fill="#bbb" filter="url(#b2)" opacity="1.00"/>
<ellipse cx="387.10" cy="52.90" rx="8.75" ry="2.35" fill="#222" filter="url(#b2)" opacity="0.50"/>
<ellipse cx="387.10" cy="52.90" rx="7.75" ry="1.35" fill="#222" filter="url(#b0)"/>
<ellipse cx="405.00" cy="53.20" rx="9.50" ry="2.60" fill="#222" filter="url(#b2)" opacity="0.50"/>
<ellipse cx="405.00" cy="53.20" rx="8.50" ry="1.60" fill="#222" filter="url(#b0)"/>
<rect x="334.4" y="27.9" width="80.8" height="30.9" fill="none" stroke="#000" stroke-width="2.2"/><path d="M334,43.7 H415.5" stroke="#000" stroke-width="2.2"/>
<rect x="338.00" y="71.35" width="15.00" height="1.90" rx="0.95" fill="#444" filter="url(#b0)" opacity="1.00" transform="rotate(-3.0 345.50 72.30)"/>
<rect x="357.30" y="70.75" width="16.00" height="1.90" rx="0.95" fill="#444" filter="url(#b0)" opacity="1.00" transform="rotate(-1.0 365.30 71.70)"/>
<rect x="378.10" y="70.75" width="15.00" height="1.90" rx="0.95" fill="#444" filter="url(#b0)" opacity="1.00" transform="rotate(-2.0 385.60 71.70)"/>
<rect x="397.80" y="70.55" width="16.00" height="1.90" rx="0.95" fill="#444" filter="url(#b0)" opacity="1.00" transform="rotate(2.0 405.80 71.50)"/>
<rect x="335" y="65" width="81.8" height="14.4" fill="none" stroke="#000" stroke-width="2.2"/>
<rect x="338.00" y="95.50" width="16.00" height="2.60" rx="1.30" fill="#111" filter="url(#b0)" opacity="1.00" transform="rotate(1.0 346.00 96.80)"/>
<rect x="357.55" y="95.70" width="16.50" height="2.60" rx="1.30" fill="#111" filter="url(#b0)" opacity="1.00" transform="rotate(1.0 365.80 97.00)"/>
<rect x="377.30" y="95.50" width="15.00" height="2.60" rx="1.30" fill="#111" filter="url(#b0)" opacity="1.00" transform="rotate(-1.0 384.80 96.80)"/>
<rect x="396.65" y="95.00" width="15.50" height="2.60" rx="1.30" fill="#111" filter="url(#b0)" opacity="1.00" transform="rotate(-4.0 404.40 96.30)"/>
<rect x="335" y="87.1" width="81.8" height="15" fill="none" stroke="#000" stroke-width="2.2"/>
<g filter="url(#soft)">
<text x="265.60" y="169.30" font-size="16.50" font-weight="bold" textLength="12.00" lengthAdjust="spacingAndGlyphs">C</text>
<text x="393.30" y="181.50" font-size="10.50" font-weight="bold" textLength="66.50" lengthAdjust="spacingAndGlyphs">Patient no. 2</text>
<text x="268.50" y="201.80" font-size="12.80" textLength="32.00" lengthAdjust="spacingAndGlyphs">Mcl-1</text>
<text x="268.50" y="225.00" font-size="12.80" textLength="22.50" lengthAdjust="spacingAndGlyphs">Bak</text>
<text x="268.50" y="246.00" font-size="12.80" textLength="31.00" lengthAdjust="spacingAndGlyphs">Noxa</text>
<text x="268.80" y="270.60" font-size="10.90" font-weight="bold" textLength="54.60" lengthAdjust="spacingAndGlyphs">GX15-070</text>
<text x="268.80" y="282.40" font-size="10.90" font-weight="bold" textLength="65.80" lengthAdjust="spacingAndGlyphs">Bortezomib</text>
<text x="345.30" y="272.20" font-size="12.00" font-weight="bold" textLength="4.40" lengthAdjust="spacingAndGlyphs">-</text>
<text x="345.30" y="282.20" font-size="12.00" font-weight="bold" textLength="4.40" lengthAdjust="spacingAndGlyphs">-</text>
<text x="364.40" y="271.80" font-size="12.00" font-weight="bold" text-anchor="middle">+</text>
<text x="361.30" y="282.20" font-size="12.00" font-weight="bold" textLength="4.40" lengthAdjust="spacingAndGlyphs">-</text>
<text x="383.30" y="272.20" font-size="12.00" font-weight="bold" textLength="4.40" lengthAdjust="spacingAndGlyphs">-</text>
<text x="384.00" y="281.80" font-size="12.00" font-weight="bold" text-anchor="middle">+</text>
<text x="406.80" y="271.80" font-size="12.00" font-weight="bold" text-anchor="middle">+</text>
<text x="406.80" y="281.80" font-size="12.00" font-weight="bold" text-anchor="middle">+</text>
<text x="439.70" y="272.20" font-size="12.00" font-weight="bold" textLength="4.40" lengthAdjust="spacingAndGlyphs">-</text>
<text x="439.70" y="282.20" font-size="12.00" font-weight="bold" textLength="4.40" lengthAdjust="spacingAndGlyphs">-</text>
<text x="459.00" y="271.80" font-size="12.00" font-weight="bold" text-anchor="middle">+</text>
<text x="455.60" y="282.20" font-size="12.00" font-weight="bold" textLength="4.40" lengthAdjust="spacingAndGlyphs">-</text>
<text x="477.50" y="272.20" font-size="12.00" font-weight="bold" textLength="4.40" lengthAdjust="spacingAndGlyphs">-</text>
<text x="478.20" y="281.80" font-size="12.00" font-weight="bold" text-anchor="middle">+</text>
<text x="501.20" y="271.80" font-size="12.00" font-weight="bold" text-anchor="middle">+</text>
<text x="501.20" y="281.80" font-size="12.00" font-weight="bold" text-anchor="middle">+</text>
<path d="M338.2,285.9 H422.5 M433.2,284.8 H518" stroke="#000" stroke-width="1.2"/>
<text x="356.90" y="298.00" font-size="10.00" font-weight="bold" textLength="34.00" lengthAdjust="spacingAndGlyphs">Bound</text>
<text x="444.70" y="297.20" font-size="10.00" font-weight="bold" textLength="46.40" lengthAdjust="spacingAndGlyphs">Unbound</text>
</g>
<rect x="378" y="189" width="17" height="22" fill="#ddd" filter="url(#b3)" opacity="0.8"/>
<rect x="398" y="189" width="16" height="22" fill="#ddd" filter="url(#b3)" opacity="0.8"/>
<rect x="335" y="190" width="40" height="20" fill="#eee" filter="url(#b3)" opacity="0.8"/>
<rect x="336.10" y="198.80" width="15.00" height="3.40" rx="1.70" fill="#555" filter="url(#b2)" opacity="1.00"/>
<rect x="357.50" y="199.10" width="14.00" height="3.00" rx="1.50" fill="#aaa" filter="url(#b2)" opacity="1.00"/>
<ellipse cx="386.40" cy="200.00" rx="8.50" ry="3.50" fill="#000" filter="url(#b2)" opacity="0.50"/>
<ellipse cx="386.40" cy="200.00" rx="7.50" ry="2.50" fill="#000" filter="url(#b0)"/>
<ellipse cx="407.00" cy="200.00" rx="9.25" ry="3.90" fill="#000" filter="url(#b2)" opacity="0.50"/>
<ellipse cx="407.00" cy="200.00" rx="8.25" ry="2.90" fill="#000" filter="url(#b0)"/>
<rect x="336.50" y="213.20" width="15.00" height="2.40" rx="1.20" fill="#111" filter="url(#b1)" opacity="1.00"/>
<ellipse cx="349.20" cy="221.40" rx="10.75" ry="4.30" fill="#000" filter="url(#b2)" opacity="0.75"/>
<ellipse cx="349.20" cy="221.40" rx="9.75" ry="3.30" fill="#000" filter="url(#b0)"/>
<ellipse cx="369.50" cy="219.50" rx="8.75" ry="3.00" fill="#111" filter="url(#b2)" opacity="0.70"/>
<ellipse cx="369.50" cy="219.50" rx="7.75" ry="2.00" fill="#111" filter="url(#b0)"/>
<ellipse cx="389.00" cy="220.00" rx="9.00" ry="3.50" fill="#000" filter="url(#b2)" opacity="0.75"/>
<ellipse cx="389.00" cy="220.00" rx="8.00" ry="2.50" fill="#000" filter="url(#b0)"/>
<rect x="394.8" y="214.5" width="1.2" height="4.5" fill="#111" filter="url(#b0)"/>
<rect x="402.45" y="218.70" width="13.50" height="3.60" rx="1.80" fill="#444" filter="url(#b1)" opacity="1.00"/>
<rect x="401.70" y="217.50" width="15.00" height="6.00" rx="3.00" fill="#888" filter="url(#b2)" opacity="0.50"/>
<ellipse cx="439.75" cy="219.10" rx="12.00" ry="4.50" fill="#000" filter="url(#b2)" opacity="0.50"/>
<ellipse cx="439.75" cy="219.10" rx="11.00" ry="3.50" fill="#000" filter="url(#b0)"/>
<ellipse cx="460.25" cy="219.00" rx="12.00" ry="4.50" fill="#000" filter="url(#b2)" opacity="0.50"/>
<ellipse cx="460.25" cy="219.00" rx="11.00" ry="3.50" fill="#000" filter="url(#b0)"/>
<ellipse cx="480.25" cy="218.10" rx="11.50" ry="4.50" fill="#000" filter="url(#b2)" opacity="0.50"/>
<ellipse cx="480.25" cy="218.10" rx="10.50" ry="3.50" fill="#000" filter="url(#b0)"/>
<ellipse cx="500.60" cy="217.40" rx="12.85" ry="4.50" fill="#000" filter="url(#b2)" opacity="0.50"/>
<ellipse cx="500.60" cy="217.40" rx="11.85" ry="3.50" fill="#000" filter="url(#b0)"/>
<rect x="436" y="217" width="70" height="3" fill="#000" filter="url(#b0)"/>
<rect x="338" y="237" width="88" height="15.5" fill="#f4f4f4" filter="url(#b2)"/>
<rect x="336" y="236" width="90" height="17" fill="#777" filter="url(#noise)" opacity="0.4"/>
<rect x="428" y="238.5" width="84" height="11" fill="#888" filter="url(#noise2)" opacity="0.3"/>
<rect x="385.00" y="240.50" width="40.00" height="10.00" rx="5.00" fill="#aaa" filter="url(#b3)" opacity="0.90"/>
<rect x="388.50" y="245.55" width="15.00" height="4.50" rx="2.25" fill="#444" filter="url(#b3)" opacity="0.90"/>
<rect x="407.00" y="245.00" width="15.00" height="5.00" rx="2.50" fill="#444" filter="url(#b3)" opacity="0.90"/>
<circle cx="503.4" cy="251" r="0.9" fill="#888" filter="url(#b0)"/>
<rect x="332.55" y="187.6" width="184" height="66.8" fill="none" stroke="#000" stroke-width="2.5"/><path d="M332,212.1 H517 M332,234 H517" stroke="#000" stroke-width="2.7"/>
</svg>
</body></html>
